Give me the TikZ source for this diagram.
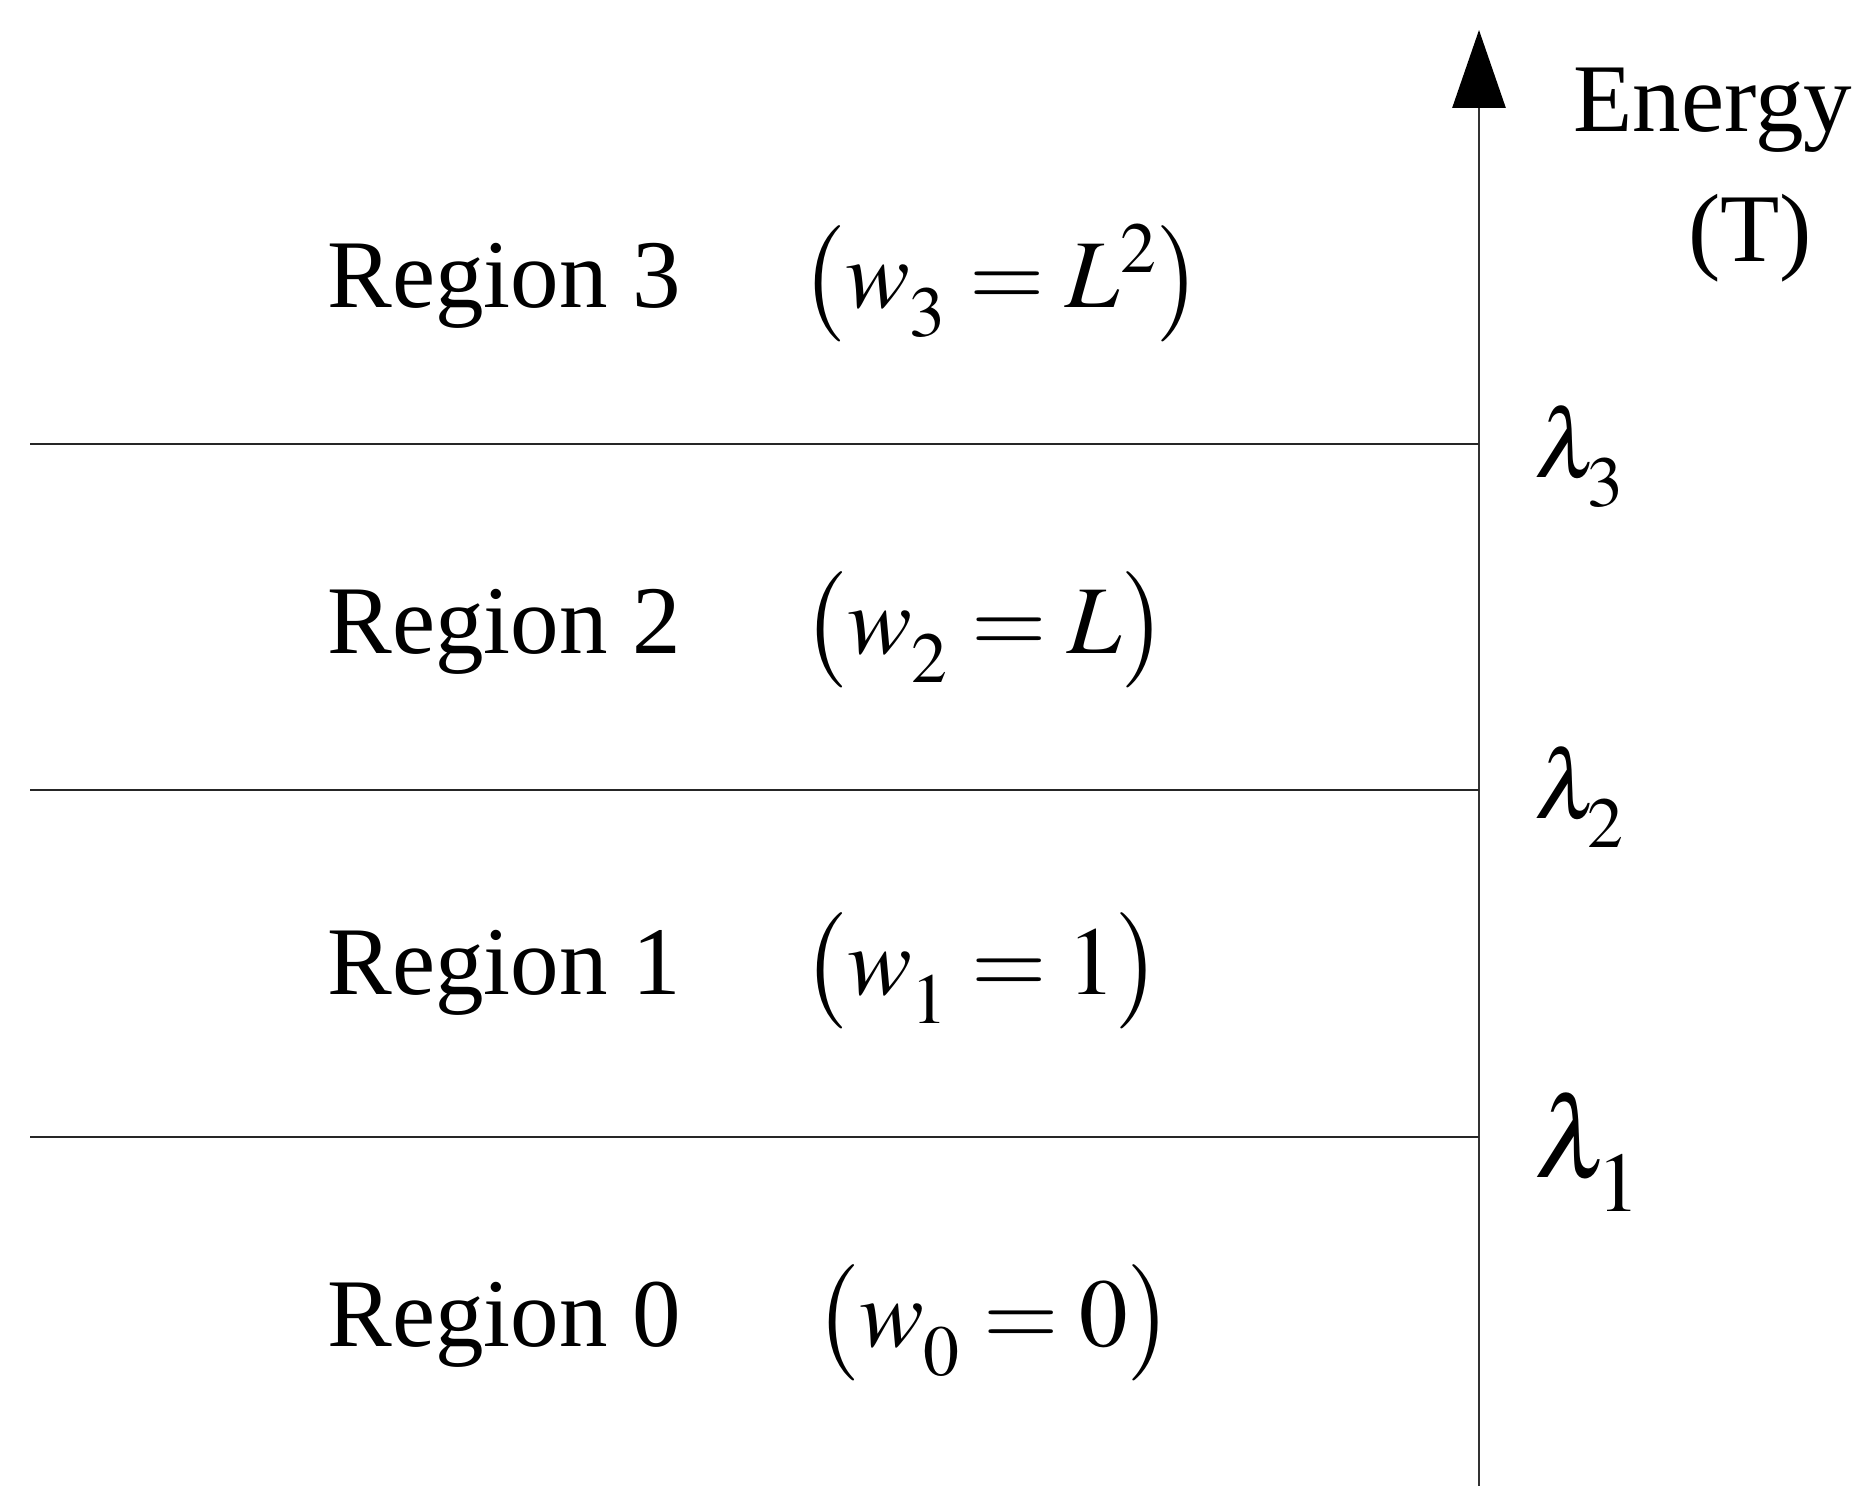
\documentclass[tikz,border=0pt]{standalone}
\usepackage{mathptmx}
\usepackage[no-math]{fontspec}
\setmainfont{Liberation Serif}
\usepackage{tikz}
\usetikzlibrary{arrows.meta,calc}
\newcommand{\dn}[1]{\raisebox{-0.14em}{$\scriptstyle #1$}}
\tikzset{
	lbl/.style={inner sep=0pt, font=\fontsize{27.6}{33}\selectfont},
	level/.style={line width=0.6pt, color=black!85},
}

\begin{document}
\begin{tikzpicture}
		%%%%% START %%%%%
		\useasboundingbox (0, 0) rectangle (18.75, 15.10);
		
		\coordinate (axisbot) at (14.79, 0.24);
		\coordinate (axistop) at (14.79, 14.80);
		\draw[line width=0.8pt, color=black!80, -{Triangle[length=7.8mm, width=5.3mm, color=black]}] (axisbot) -- (axistop);
		
		\coordinate (cut3) at (0.30, 10.664);
		\coordinate (cut2) at (0.30, 7.196);
		\coordinate (cut1) at (0.30, 3.728);
		\draw[level] (cut3) -- (cut3 -| axisbot);
		\draw[level] (cut2) -- (cut2 -| axisbot);
		\draw[level] (cut1) -- (cut1 -| axisbot);
		
		\node[lbl, anchor=base west] (energy) at (15.73, 13.78) {Energy};
		\node[lbl, anchor=base] (unit) at (17.50, 12.48) {(T)};
		
		\node[lbl, anchor=base west] (reg3) at (3.27, 12.02) {Region 3};
		\node[lbl, anchor=base west] (reg2) at (3.27, 8.56) {Region 2};
		\node[lbl, anchor=base west] (reg1) at (3.27, 5.15) {Region 1};
		\node[lbl, anchor=base west] (reg0) at (3.27, 1.63) {Region 0};
		
		\node[lbl, anchor=base west] (wt3) at (8.00, 12.02) {$\bigl(w_{\dn{3}} = L^2\bigr)$};
		\node[lbl, anchor=base west] (wt2) at (8.02, 8.56) {$\bigl(w_{\dn{2}} = L\bigr)$};
		\node[lbl, anchor=base west] (wt1) at (8.02, 5.15) {$\bigl(w_{\dn{1}} = 1\bigr)$};
		\node[lbl, anchor=base west] (wt0) at (8.14, 1.63) {$\bigl(w_{\dn{0}} = 0\bigr)$};
		
		\node[lbl, anchor=base west] (lam3) at (15.34, 10.32) {$\lambda_{\dn{3}}$};
		\node[lbl, anchor=base west] (lam2) at (15.34, 6.91) {$\lambda_{\dn{2}}$};
		\node[lbl, anchor=base west, scale=1.18] (lam1) at (15.34, 3.32) {$\lambda_{\dn{1}}$};
		%%%%% END %%%%%
	\end{tikzpicture}
\end{document}
